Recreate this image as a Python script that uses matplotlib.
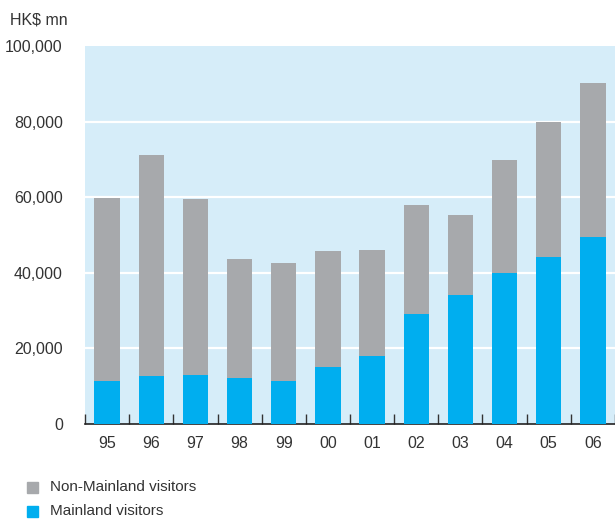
import matplotlib.pyplot as plt
import numpy as np

years = ['95', '96', '97', '98', '99', '00', '01', '02', '03', '04', '05', '06']
total = [59800, 71200, 59500, 43700, 42600, 45800, 46000, 57900, 55300, 69800, 79900, 90200]
mainland = [11400, 12700, 13000, 12200, 11400, 15100, 18000, 29100, 34100, 39900, 44200, 49500]
non_mainland = [t - m for t, m in zip(total, mainland)]

blue = '#00AEEF'
grey = '#A7A9AC'
bg = '#D6EDF9'
txt = '#333333'

plt.rcParams['font.family'] = ['Liberation Sans', 'DejaVu Sans']

fig = plt.figure(figsize=(6.15, 5.19), dpi=100)
ax = fig.add_axes([85 / 615, (519 - 424) / 519, 530 / 615, 378 / 519])
ax.set_facecolor(bg)

x = np.arange(len(years))
w = 0.57
ax.bar(x, mainland, w, color=blue, zorder=3)
ax.bar(x, non_mainland, w, bottom=mainland, color=grey, zorder=3)

ax.set_xlim(-0.5, len(years) - 0.5)
ax.set_ylim(0, 100000)
yt = [0, 20000, 40000, 60000, 80000, 100000]
ax.set_yticks(yt)
ax.set_yticklabels(['{:,}'.format(v) for v in yt], fontsize=11.5, color=txt)
ax.tick_params(axis='y', length=0, pad=16)
for v in yt[1:-1]:
    ax.axhline(v, color='white', lw=1.6, zorder=1)

ax.set_xticks(x)
ax.set_xticklabels(years, fontsize=11.5, color=txt)
ax.tick_params(axis='x', which='major', length=0, pad=9)
ax.set_xticks(np.arange(-0.5, len(years), 1), minor=True)
ax.tick_params(axis='x', which='minor', direction='in', length=7, width=1, color='#333333')

for s in ['top', 'right', 'left']:
    ax.spines[s].set_visible(False)
ax.spines['bottom'].set_color('#222222')
ax.spines['bottom'].set_linewidth(1.2)

fig.text(10 / 615, 1 - 20 / 519, 'HK$ mn', fontsize=11.5, color=txt, va='center')

# legend
for i, (lab, c) in enumerate([('Non-Mainland visitors', grey), ('Mainland visitors', blue)]):
    yy = 1 - (487 + 24 * i) / 519
    fig.patches.append(plt.Rectangle((27 / 615, yy - 5.5 / 519), 11 / 615, 11 / 519,
                                     transform=fig.transFigure, color=c))
    fig.text(50 / 615, yy, lab, fontsize=11, color=txt, va='center')

fig.savefig('out.png', dpi=100)
